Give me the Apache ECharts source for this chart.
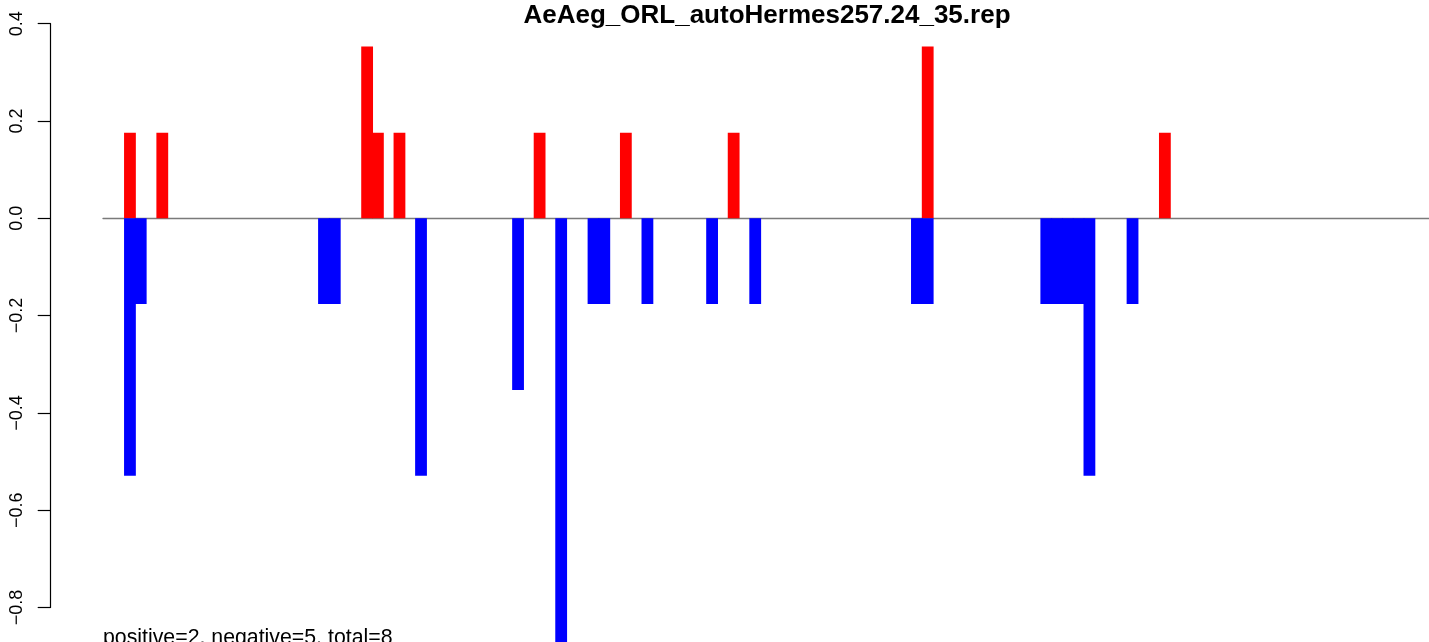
<!DOCTYPE html>
<html>
<head>
<meta charset="utf-8">
<script src="https://cdn.jsdelivr.net/npm/echarts@6/dist/echarts.min.js"></script>
<style>
html,body{margin:0;padding:0;background:#fff;}
#chart{width:1429px;height:642px;}
</style>
</head>
<body>
<div id="chart"></div>
<script>
// ---- data ----
var titleText = "AeAeg_ORL_autoHermes257.24_35.rep";
var footText = "positive=2, negative=5, total=8";
var slotCount = 123;
var posSlots = [2, 5, 24, 25, 27, 40, 48, 58, 76, 98];
var posValues = [0.176, 0.176, 0.353, 0.176, 0.176, 0.176, 0.176, 0.176, 0.353, 0.176];
var negSlots = [2, 3, 20, 21, 29, 38, 42, 45, 46, 50, 56, 60, 75, 76, 87, 88, 89, 90, 91, 95];
var negValues = [-0.529, -0.176, -0.176, -0.176, -0.529, -0.353, -0.882, -0.176, -0.176, -0.176, -0.176, -0.176, -0.176, -0.176, -0.176, -0.176, -0.176, -0.176, -0.529, -0.176];
var yTicks = [-0.8, -0.6, -0.4, -0.2, 0.0, 0.2, 0.4];

// ---- build ----
var categories = [];
var posData = [];
var negData = [];
for (var i = 0; i < slotCount; i++) { categories.push(String(i + 1)); posData.push(null); negData.push(null); }
posSlots.forEach(function (s, k) { posData[s] = posValues[k]; });
negSlots.forEach(function (s, k) { negData[s] = negValues[k]; });

var chart = echarts.init(document.getElementById('chart'), null, {renderer: 'canvas'});
var FONT = "'Liberation Sans', Arial, Helvetica, sans-serif";
chart.setOption({
  animation: false,
  backgroundColor: '#ffffff',
  grid: {left: 103, top: 23.7, width: 1328.4, bottom: 34.5, containLabel: false},
  xAxis: {
    type: 'category', data: categories,
    axisLine: {show: true, onZero: true, lineStyle: {color: '#7a7a7a', width: 1.3}},
    axisTick: {show: false}, axisLabel: {show: false}, splitLine: {show: false}
  },
  yAxis: {
    type: 'value', min: yTicks[0], max: yTicks[yTicks.length - 1], interval: 0.2,
    position: 'left', offset: 52.3,
    axisLine: {show: true, lineStyle: {color: '#000', width: 1.2}},
    axisTick: {show: true, length: 13, lineStyle: {color: '#000', width: 1.2}},
    axisLabel: {
      show: true, rotate: 90, margin: 25, fontSize: 18, color: '#000', fontFamily: FONT,
      formatter: function (v) { return v.toFixed(1).replace('-', '\u2212'); }
    },
    splitLine: {show: false}
  },
  series: [
    {type: 'bar', data: posData, itemStyle: {color: '#ff0000'}, barWidth: 11.8, barGap: '-100%', clip: false},
    {type: 'bar', data: negData, itemStyle: {color: '#0000ff'}, barWidth: 11.8, barGap: '-100%', clip: false}
  ],
  graphic: [
    {type: 'text', x: 767, y: 28.5, style: {text: titleText, fontSize: 26, fontWeight: 'bold', fontFamily: FONT, fill: '#000', align: 'center', verticalAlign: 'bottom'}},
    {type: 'text', x: 103, y: 649, style: {text: footText, fontSize: 21.3, fontFamily: FONT, fill: '#000', align: 'left', verticalAlign: 'bottom'}}
  ]
});
</script>
</body>
</html>
